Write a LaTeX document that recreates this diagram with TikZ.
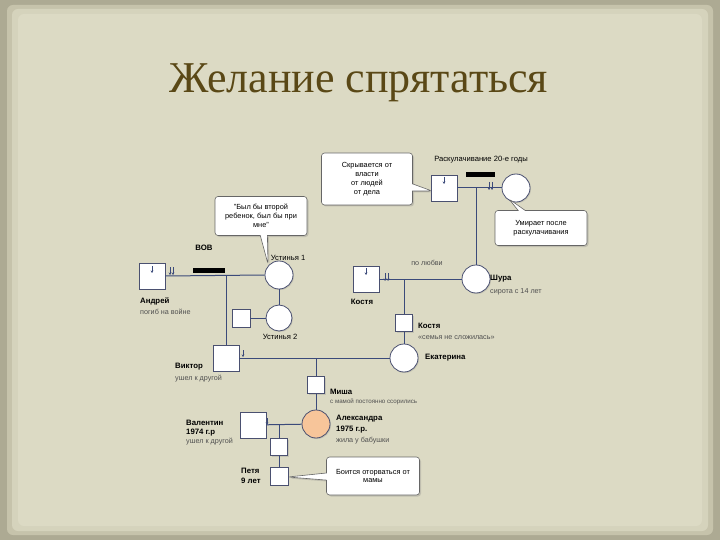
\documentclass[tikz,border=0pt]{standalone}
\usepackage{fontspec}
\setmainfont{Liberation Serif}
\setsansfont{Liberation Sans}
\usetikzlibrary{shapes.callouts,shadows,calc,arrows.meta}
\definecolor{bgout}{HTML}{ADAA93}
\definecolor{bgmid}{HTML}{C6C3AB}
\definecolor{bgin}{HTML}{DCDAC4}
\definecolor{titlec}{HTML}{5A4816}
\definecolor{edgec}{HTML}{4A5070}
\definecolor{linec}{HTML}{3B4A7A}
\definecolor{descc}{HTML}{505050}
\definecolor{orangec}{HTML}{F7C59A}
\tikzset{
  person/.style={draw=edgec, fill=white, line width=0.8pt, inner sep=0pt,
     drop shadow={shadow xshift=1pt, shadow yshift=-1pt, opacity=0.25}},
  male/.style={person, rectangle, minimum size=26pt},
  smale/.style={person, rectangle, minimum size=17pt},
  female/.style={person, circle, minimum size=28pt},
  lnk/.style={draw=linec, line width=1pt},
  pname/.style={font=\sffamily\bfseries\fontsize{7.8}{9}\selectfont, anchor=west, inner sep=0pt},
  pdesc/.style={font=\sffamily\fontsize{7.2}{8}\selectfont, text=descc, anchor=west, inner sep=0pt},
  plain/.style={font=\sffamily\fontsize{7.6}{8.5}\selectfont, inner sep=0pt},
  note/.style={rectangle callout, draw=gray!80!black, fill=white, line width=0.6pt,
     rounded corners=3pt, align=center, inner sep=2pt,
     font=\sffamily\fontsize{7.4}{8.8}\selectfont,
     drop shadow={shadow xshift=1.5pt, shadow yshift=-1.5pt, opacity=0.3}},
  tickarr/.style={draw=linec, line width=0.6pt, -{Stealth[length=2.5pt,width=2.5pt]}},
  barline/.style={fill=black}
}
\begin{document}
\begin{tikzpicture}[x=1pt,y=-1pt]
\useasboundingbox (0,0) rectangle (720,540);
% background
\fill[bgout] (0,0) rectangle (720,540);
\fill[bgmid, rounded corners=6pt] (7,5) rectangle (713,535);
\fill[bgin!70!bgmid, rounded corners=6pt] (12,9) rectangle (708,531);
\fill[bgin, rounded corners=6pt] (18,14) rectangle (702,526);

% title
\node[font=\fontsize{44}{48}\selectfont, text=titlec] (title) at (359,83) {Желание спрятаться};

% top generation
\node[male] (topM) at (444,188) {};
\node[female] (topF) at (516,188) {};
\fill[barline] (466,172) rectangle (495,177);
\node[plain] (rask) at (481,160) {Раскулачивание 20-е годы};
\draw[lnk] (topM) -- (topF);
\draw[tickarr] (444,177) -- (444,184);
\draw[tickarr] (489,182) -- (489,190);
\draw[tickarr] (492,182) -- (492,190);

% Shura and Kostya 1
\node[female] (shura) at (476,279) {};
\node[male] (kost1) at (366,279) {};
\draw[lnk] (shura.north |- topM.east) -- (shura.north);
\draw[lnk] (kost1) -- (shura);
\draw[tickarr] (366,268) -- (366,275);
\draw[tickarr] (385,273) -- (385,281);
\draw[tickarr] (388,273) -- (388,281);
\node[pdesc, anchor=center] (lub) at (427,263) {по любви};
\node[pname, anchor=center] (kost1l) at (362,302) {Костя};
\node[pname] (shural) at (490,279) {Шура};
\node[pdesc] (shurad) at (490,292) {сирота с 14 лет};

% Kostya 2 and Ekaterina
\node[smale] (kost2) at (404,323) {};
\node[female] (ekat) at (404,358) {};
\draw[lnk] (kost2.north |- kost1.east) -- (kost2.north);
\draw[lnk] (kost2) -- (ekat);
\node[pname] (kost2l) at (418,326) {Костя};
\node[pdesc] (kost2d) at (418,338) {«семья не сложилась»};
\node[pname] (ekatl) at (425,358) {Екатерина};

% Andrey and Ustinya 1
\node[male] (andr) at (152,276) {};
\node[female] (ust1) at (279,275) {};
\fill[barline] (193,268) rectangle (225,273);
\node[pname, anchor=center] (vov) at (204,248) {ВОВ};
\draw[lnk] (andr.east) -- (ust1.west);
\draw[tickarr] (152,266) -- (152,273);
\draw[tickarr] (170,267) -- (170,275);
\draw[tickarr] (173,267) -- (173,275);
\node[plain] (ust1l) at (288,258) {Устинья 1};
\node[pname] (andrl) at (140,301) {Андрей};
\node[pdesc] (andrd) at (140,312) {погиб на войне};

% Ustinya 2
\node[female, minimum size=26pt] (ust2) at (279,318) {};
\node[person, rectangle, minimum size=18pt] (sq2) at (241,318) {};
\draw[lnk] (ust1) -- (ust2);
\draw[lnk] (sq2) -- (ust2);
\node[plain] (ust2l) at (280,337) {Устинья 2};

% Viktor
\node[male] (vikt) at (226,358) {};
\draw[lnk] (vikt.north |- andr.east) -- (vikt.north);
\draw[lnk] (vikt) -- (ekat);
\draw[tickarr] (243,350) -- (243,357);
\node[pname] (viktl) at (175,367) {Виктор};
\node[pdesc] (viktd) at (175,379) {ушел к другой};

% Misha and Alexandra
\node[smale] (misha) at (316,385) {};
\node[female, fill=orangec] (alex) at (316,424) {};
\draw[lnk] (misha.north |- vikt.east) -- (misha.north);
\draw[lnk] (misha) -- (alex);
\node[pname] (mishal) at (330,392) {Миша};
\node[pdesc, font=\sffamily\fontsize{6.2}{7}\selectfont] (mishad) at (330,402) {с мамой постоянно ссорились};
\node[pname] (alexl) at (336,419) {Александра};
\node[pname] (alexy) at (336,430) {1975 г.р.};
\node[pdesc] (alexd) at (336,441) {жила у бабушки};

% Valentin, children
\node[male] (val) at (253,425) {};
\draw[lnk] (val) -- (alex);
\draw[tickarr] (267,418) -- (267,425);
\node[person, rectangle, minimum size=17pt] (ch1) at (279,447) {};
\node[person, rectangle, minimum size=18pt] (petya) at (279,476) {};
\draw[lnk] (ch1.north |- val.east) -- (ch1.north);
\draw[lnk] (ch1) -- (petya);
\node[pname] (vall) at (186,423) {Валентин};
\node[pname] (valy) at (186,433) {1974 г.р};
\node[pdesc] (vald) at (186,442) {ушел к другой};
\node[pname] (petyal) at (241,471) {Петя};
\node[pname] (petyay) at (241,481) {9 лет};

% callouts
\node[note, minimum width=91pt, minimum height=52pt, callout absolute pointer={(432,191)}] (n1) at (367,179)
  {Скрывается от\\власти\\от людей\\от дела};
\node[note, minimum width=92pt, minimum height=35pt, callout absolute pointer={(509,199)}] (n2) at (541,228)
  {Умирает после\\раскулачивания};
\node[note, minimum width=92pt, minimum height=39pt, callout absolute pointer={(268,264)}] (n3) at (261,216)
  {"Был бы второй\\ребенок, был бы при\\мне"};
\node[note, minimum width=93pt, minimum height=38pt, callout absolute pointer={(288,477)}] (n4) at (373,476)
  {Боится оторваться от\\мамы};
\end{tikzpicture}
\end{document}
